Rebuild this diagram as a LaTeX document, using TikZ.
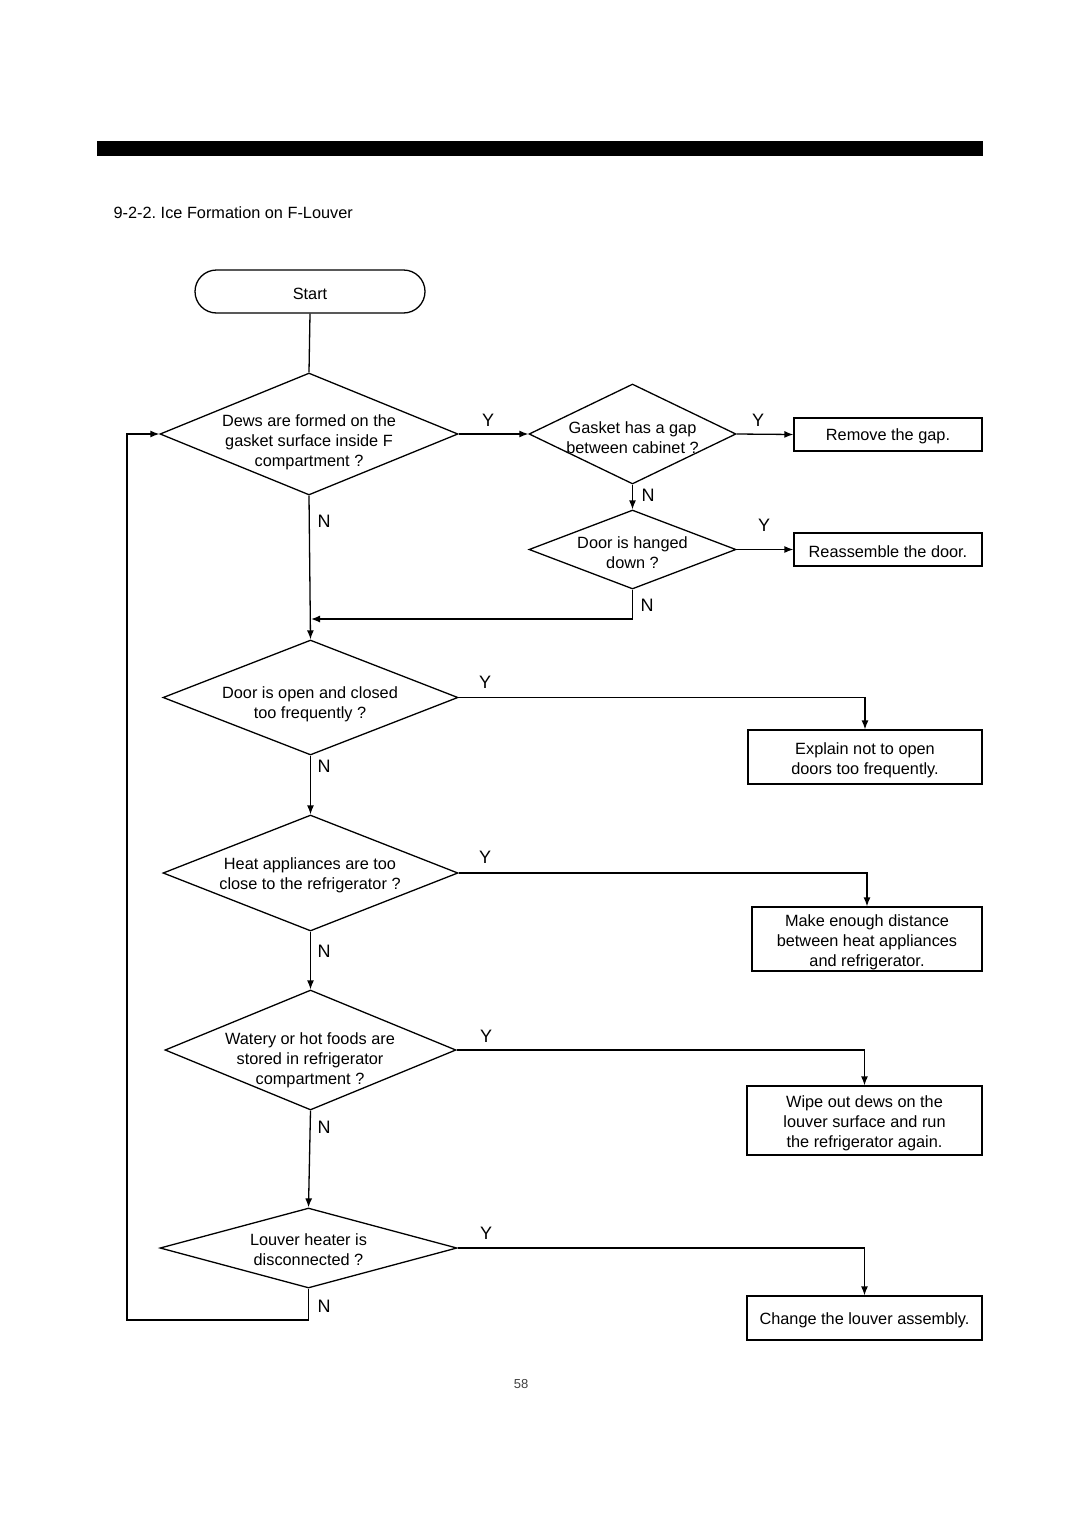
\documentclass[tikz,border=0pt]{standalone}
\usepackage{fontspec}
\setmainfont{Liberation Sans}
\usetikzlibrary{shapes.geometric,shapes.misc,arrows.meta}
\frenchspacing
\begin{document}
\begin{tikzpicture}[x=1pt,y=-1pt, line width=1.3pt,
 dec/.style={diamond, draw, inner sep=0pt},
 txt/.style={align=center, font=\fontsize{16.3}{20}\selectfont, inner sep=0pt, yshift=-2pt},
 act/.style={draw, rectangle, inner sep=0pt},
 yn/.style={font=\fontsize{18}{20}\selectfont, inner sep=0pt},
 arr/.style={-{Latex[length=9pt,width=7pt]}}
]
\useasboundingbox (0,0) rectangle (1080,1528);
\fill (97,141) rectangle (983,156);
\node[txt, anchor=west] (title) at (113,211) {9-2-2.\ Ice Formation on F-Louver};

\node[draw, rounded rectangle, minimum width=230pt, minimum height=43pt, inner sep=0pt] (start) at (310,291.5) {};
\node[txt] (startt) at (310,291.5) {Start};

% decisions
\node[dec, minimum width=298pt, minimum height=122pt] (d1) at (309,434) {};
\node[txt] (d1t) at (309,440) {Dews are formed on the\\gasket surface inside F\\compartment ?};
\node[dec, minimum width=207pt, minimum height=100pt] (d2) at (632.5,434) {};
\node[txt] (d2t) at (632.5,436) {Gasket has a gap\\between cabinet ?};
\node[dec, minimum width=207pt, minimum height=79pt] (d3) at (632.5,549.5) {};
\node[txt] (d3t) at (632.5,551) {Door is hanged\\down ?};
\node[dec, minimum width=295pt, minimum height=115pt] (d4) at (310.5,697.5) {};
\node[txt] (d4t) at (310,702) {Door is open and closed\\too frequently ?};
\node[dec, minimum width=295pt, minimum height=116pt] (d5) at (310.5,873) {};
\node[txt] (d5t) at (310,873) {Heat appliances are too\\close to the refrigerator ?};
\node[dec, minimum width=291pt, minimum height=120pt] (d6) at (310.5,1050) {};
\node[txt] (d6t) at (310,1058) {Watery or hot foods are\\stored in refrigerator\\compartment ?};
\node[dec, minimum width=297pt, minimum height=80pt] (d7) at (308.5,1248) {};
\node[txt] (d7t) at (308.5,1248) {Louver heater is\\disconnected ?};

% actions
\node[act, minimum width=188pt, minimum height=33pt] (b1) at (888,434.5) {};
\node[txt] (b1t) at (888,434.5) {Remove the gap.};
\node[act, minimum width=188pt, minimum height=33pt] (b2) at (888,549.5) {};
\node[txt] (b2t) at (888,549.5) {Reassemble the door.};
\node[act, minimum width=234pt, minimum height=54pt] (b3) at (865,757) {};
\node[txt] (b3t) at (865,758) {Explain not to open\\doors too frequently.};
\node[act, minimum width=230pt, minimum height=64pt] (b4) at (867,939) {};
\node[txt] (b4t) at (867,940) {Make enough distance\\between heat appliances\\and refrigerator.};
\node[act, minimum width=235pt, minimum height=69pt] (b5) at (864.5,1120.5) {};
\node[txt] (b5t) at (864.5,1121.5) {Wipe out dews on the\\louver surface and run\\the refrigerator again.};
\node[act, minimum width=235pt, minimum height=44pt] (b6) at (864.5,1318) {};
\node[txt] (b6t) at (864.5,1318) {Change the louver assembly.};

% connectors
\draw (start.south) -- (d1.north);
\draw[arr] (d1.east) -- (d2.west);
\draw[arr] (d2.east) -- (b1.west);
\draw[arr] (d2.south) -- (d3.north);
\draw[arr] (d3.east) -- (b2.west);
\coordinate (j1) at (311,619);
\draw[arr] (d3.south) |- (j1);
\draw[arr] (d1.south) -- (d4.north);
\draw[arr] (d4.east) -| (b3.north);
\draw[arr] (d4.south) -- (d5.north);
\draw[arr] (d5.east) -| (b4.north);
\draw[arr] (d5.south) -- (d6.north);
\draw[arr] (d6.east) -| (b5.north);
\draw[arr] (d6.south) -- (d7.north);
\draw[arr] (d7.east) -| (b6.north);
\coordinate (loop) at (127,1320);
\draw[arr] (d7.south) |- (loop) |- (d1.west);

% labels
\node[yn] (y1) at (488,420) {Y};
\node[yn] (y2) at (758,420) {Y};
\node[yn] (n2) at (648,495) {N};
\node[yn] (y3) at (764,525) {Y};
\node[yn] (n3) at (647,605) {N};
\node[yn] (n1) at (324,521) {N};
\node[yn] (y4) at (485,682) {Y};
\node[yn] (n4) at (324,766) {N};
\node[yn] (y5) at (485,857) {Y};
\node[yn] (n5) at (324,951) {N};
\node[yn] (y6) at (486,1036) {Y};
\node[yn] (n6) at (324,1127) {N};
\node[yn] (y7) at (486,1233) {Y};
\node[yn] (n7) at (324,1306) {N};

\node[font=\fontsize{13}{15}\selectfont, text=black!75, inner sep=0pt] (page) at (521,1384) {58};
\end{tikzpicture}
\end{document}
